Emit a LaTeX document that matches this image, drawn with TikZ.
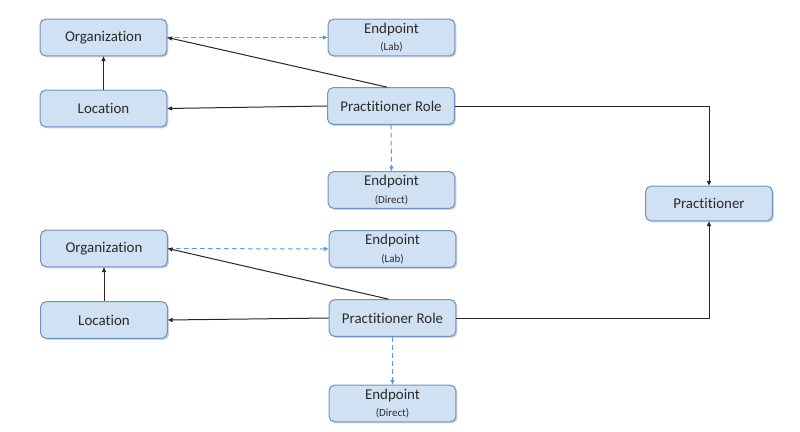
\documentclass[tikz,border=0pt]{standalone}
\usepackage{fontspec}
\setmainfont{Carlito}[Ligatures=NoCommon]
\usetikzlibrary{arrows.meta,shadows}
\definecolor{boxfill}{HTML}{CFE1F3}
\definecolor{boxline}{HTML}{7393C2}
\definecolor{dashblue}{HTML}{5B9BD5}
\definecolor{txt}{HTML}{2A2A2A}
\tikzset{
  box/.style={draw=boxline, line width=0.8pt, fill=boxfill, rounded corners=4pt,
    minimum width=95pt, minimum height=27.5pt, inner sep=0pt, align=center,
    text=txt, font=\fontsize{11.2}{12}\selectfont,
    drop shadow={shadow xshift=1.2pt, shadow yshift=-1.2pt, opacity=0.35, fill=gray}},
  conn/.style={line width=0.75pt, draw=black!85, -{Triangle[length=3.5pt,width=3pt]}},
  dconn/.style={line width=0.75pt, draw=dashblue, dash pattern=on 3.5pt off 2.5pt,
    -{Triangle[length=3.5pt,width=3pt]}},
}
\newcommand{\subtxt}[1]{\\[1pt]{\fontsize{8.2}{9}\selectfont #1}}
\begin{document}
\begin{tikzpicture}[x=0.75pt,y=-0.75pt]
\useasboundingbox (0,0) rectangle (800,432);
% top group
\node[box] (org1) at (103.5,37.5) {Organization};
\node[box] (ep1) at (391.5,37.5) {Endpoint\subtxt{(Lab)}};
\node[box] (loc1) at (103.5,108.5) {Location};
\node[box] (pr1) at (391,106) {Practitioner Role};
\node[box] (epd1) at (391.5,190) {Endpoint\subtxt{(Direct)}};
% practitioner
\node[box, minimum height=26pt] (prac) at (709,203.5) {Practitioner};
% bottom group
\node[box] (org2) at (104,248.5) {Organization};
\node[box] (ep2) at (392.5,249) {Endpoint\subtxt{(Lab)}};
\node[box] (loc2) at (104,320) {Location};
\node[box] (pr2) at (392.5,318) {Practitioner Role};
\node[box] (epd2) at (392.5,403.5) {Endpoint\subtxt{(Direct)}};
% connectors top
\draw[conn] (loc1) -- (org1);
\draw[dconn] (org1) -- (ep1);
\draw[conn] ([xshift=-3]pr1.north) -- (org1.east);
\draw[conn] (pr1.west) -- (loc1.east);
\draw[dconn] (pr1) -- (epd1);
\draw[conn] (pr1.east) -| (prac.north);
% connectors bottom
\draw[conn] (loc2) -- (org2);
\draw[dconn] (org2) -- (ep2);
\draw[conn] ([xshift=-3]pr2.north) -- (org2.east);
\draw[conn] (pr2.west) -- (loc2.east);
\draw[dconn] (pr2) -- (epd2);
\draw[conn] (pr2.east) -| (prac.south);
\end{tikzpicture}
\end{document}
